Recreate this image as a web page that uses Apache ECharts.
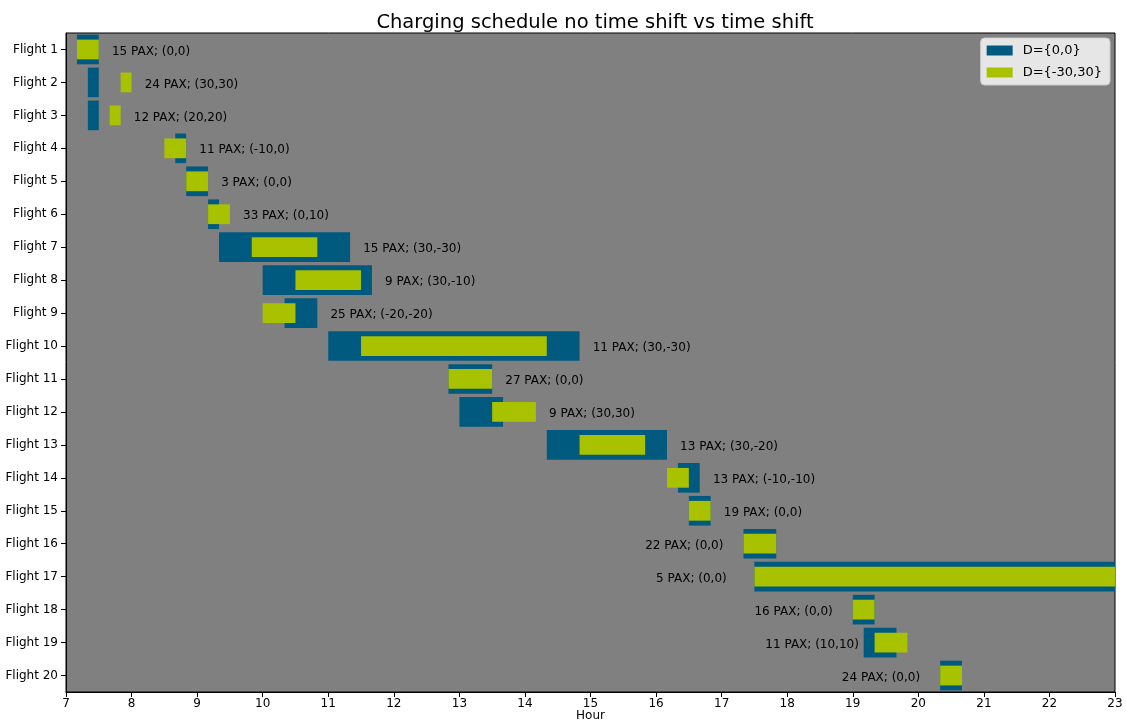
<!DOCTYPE html>
<html>
<head>
<meta charset="utf-8">
<script src="https://cdn.jsdelivr.net/npm/echarts@6/dist/echarts.min.js"></script>
<style>
  html, body { margin: 0; padding: 0; background: #fff; }
  #chart { width: 1126px; height: 722px; }
</style>
</head>
<body>
<div id="chart"></div>
<script>
// flights top to bottom
var flights = ['Flight 1','Flight 2','Flight 3','Flight 4','Flight 5','Flight 6','Flight 7','Flight 8','Flight 9','Flight 10',
               'Flight 11','Flight 12','Flight 13','Flight 14','Flight 15','Flight 16','Flight 17','Flight 18','Flight 19','Flight 20'];
var pax = [15,24,12,11,3,33,15,9,25,11,27,9,13,13,19,22,5,16,11,24];
// charging window without time shift
var chargeStart = ['07:10','07:20','07:20','08:40','08:50','09:10','09:20','10:00','10:20','11:00',
                   '12:50','13:00','14:20','16:20','16:30','17:20','17:30','19:00','19:10','20:20'];
var chargeEnd   = ['07:30','07:30','07:30','08:50','09:10','09:20','11:20','11:40','10:50','14:50',
                   '13:30','13:40','16:10','16:40','16:50','17:50','23:00','19:20','19:40','20:40'];
// shift in minutes (start, end)
var shiftStart = [0,30,20,-10,0,0,30,30,-20,30,0,30,30,-10,0,0,0,0,10,0];
var shiftEnd   = [0,30,20,0,0,10,-30,-10,-20,-30,0,30,-20,-10,0,0,0,0,10,0];
var xTicks = [7,23];

function toHour(s){
  var p = s.split(':');
  return +p[0] + (+p[1]) / 60;
}

var baseData = [], shiftData = [], labelData = [];
for (var i = 0; i < flights.length; i++) {
  var s = toHour(chargeStart[i]), e = toHour(chargeEnd[i]);
  var s2 = s + shiftStart[i] / 60, e2 = e + shiftEnd[i] / 60;
  baseData.push([i, s, e]);
  shiftData.push([i, s2, e2]);
  // late flights get their label on the left
  var anchor = s >= 17 ? s - 1.5 : Math.max(e, e2) + 0.2;
  labelData.push([i, anchor]);
}

function barRenderer(ratio){
  return function(params, api){
    var cat = api.value(0);
    var p0 = api.coord([api.value(1), cat]);
    var p1 = api.coord([api.value(2), cat]);
    var h = api.size([0, 1])[1] * ratio;
    var rect = echarts.graphic.clipRectByRect(
      { x: p0[0], y: p0[1] - h / 2, width: p1[0] - p0[0], height: h },
      { x: params.coordSys.x, y: params.coordSys.y, width: params.coordSys.width, height: params.coordSys.height }
    );
    return rect && { type: 'rect', shape: rect, style: api.style() };
  };
}

var chart = echarts.init(document.getElementById('chart'));
var font = 'DejaVu Sans';

chart.setOption({
  animation: false,
  backgroundColor: '#fff',
  title: {
    text: 'Charging schedule no time shift vs time shift',
    left: 590,
    textAlign: 'center',
    top: 8,
    textStyle: { fontFamily: font, fontSize: 19.5, fontWeight: 'normal', color: '#000' }
  },
  legend: {
    orient: 'vertical',
    right: 16,
    top: 38,
    icon: 'rect',
    itemWidth: 26,
    itemHeight: 10,
    itemGap: 9,
    padding: [6, 8, 6, 6],
    backgroundColor: 'rgba(255,255,255,0.8)',
    borderColor: '#cccccc',
    borderWidth: 1,
    borderRadius: 4,
    data: ['D={0,0}', 'D={-30,30}'],
    textStyle: { fontFamily: font, fontSize: 13, color: '#000', padding: [0, 0, 0, 5] }
  },
  grid: {
    left: 66, right: 11, top: 33, bottom: 30,
    outerBoundsMode: 'none',
    show: true,
    backgroundColor: '#808080',
    borderColor: '#000',
    borderWidth: 1
  },
  xAxis: {
    type: 'value',
    min: xTicks[0],
    max: xTicks[1],
    interval: 1,
    name: 'Hour',
    nameLocation: 'middle',
    nameGap: 18,
    nameMoveOverlap: false,
    nameTextStyle: { fontFamily: font, fontSize: 12, color: '#000' },
    axisLine: { show: true, lineStyle: { color: '#000' } },
    axisTick: { show: true, length: 5, lineStyle: { color: '#000' } },
    axisLabel: { fontFamily: font, fontSize: 12, color: '#000', margin: 6 },
    splitLine: { show: false }
  },
  yAxis: {
    type: 'category',
    data: flights,
    inverse: true,
    axisLine: { show: true, lineStyle: { color: '#000' } },
    axisTick: { show: true, length: 5, alignWithLabel: true, lineStyle: { color: '#000' } },
    axisLabel: { fontFamily: font, fontSize: 12, color: '#000', margin: 8 },
    splitLine: { show: false }
  },
  series: [
    {
      name: 'D={0,0}',
      type: 'custom',
      renderItem: barRenderer(0.9),
      itemStyle: { color: '#005a7f' },
      encode: { x: [1, 2], y: 0 },
      data: baseData,
      z: 2
    },
    {
      name: 'D={-30,30}',
      type: 'custom',
      renderItem: barRenderer(0.6),
      itemStyle: { color: '#a8c200' },
      encode: { x: [1, 2], y: 0 },
      data: shiftData,
      z: 3
    },
    {
      type: 'custom',
      renderItem: function(params, api){
        var idx = api.value(0);
        var p = api.coord([api.value(1), idx]);
        return {
          type: 'text',
          x: p[0],
          y: p[1] + 2,
          style: {
            text: pax[idx] + ' PAX; (' + shiftStart[idx] + ',' + shiftEnd[idx] + ')',
            fill: '#000',
            font: '12px "' + font + '"',
            align: 'left',
            verticalAlign: 'middle'
          }
        };
      },
      encode: { x: 1, y: 0 },
      data: labelData,
      z: 4,
      silent: true
    }
  ]
});
</script>
</body>
</html>
